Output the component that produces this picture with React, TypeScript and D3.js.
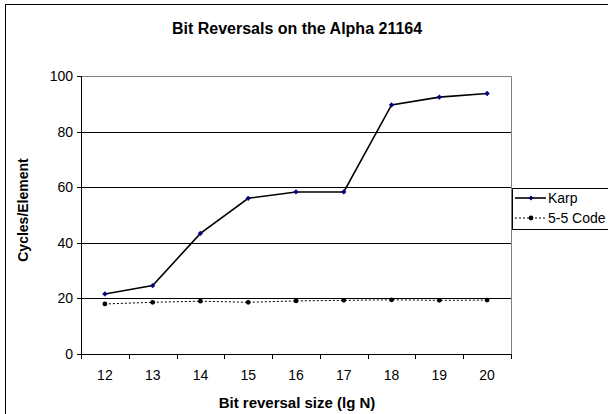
import React from "react";
import * as d3 from "d3";

const categories = ["12", "13", "14", "15", "16", "17", "18", "19", "20"];
const karp = [21.6, 24.6, 43.4, 56.0, 58.3, 58.3, 89.6, 92.4, 93.7];
const code55 = [18.0, 18.6, 19.0, 18.6, 19.1, 19.3, 19.5, 19.3, 19.4];
const yTicks = [0, 20, 40, 60, 80, 100];

const W = 608, H = 414;
const L = 81, R = 511, T = 76, B = 354;
const font = "'Liberation Sans', Arial, sans-serif";

export default function App() {
  const x = d3.scaleBand().domain(categories).range([L, R]);
  const y = d3.scaleLinear().domain([0, 100]).range([B, T]);
  const cx = (c: string) => (x(c) as number) + x.bandwidth() / 2;
  const line = d3.line<number>().x((_, i) => cx(categories[i])).y((d) => y(d));
  const boundaries = d3.range(categories.length + 1).map((i) => L + i * x.bandwidth());
  const diamond = (px: number, py: number, s = 2.4) =>
    `M${px},${py - s}L${px + s},${py}L${px},${py + s}L${px - s},${py}Z`;

  return (
    <svg width={W} height={H} style={{ position: "absolute", left: 0, top: 0 }} fontFamily={font}>
      <rect x={0} y={0} width={W} height={H} fill="#fff" />
      <rect x={5.5} y={4.5} width={W + 10} height={H + 10} fill="none" stroke="#000" strokeWidth={1} />
      <text x={297} y={34} textAnchor="middle" fontSize={16} fontWeight="bold">
        Bit Reversals on the Alpha 21164
      </text>
      {/* plot border */}
      <path d={`M${L},${T + 0.5}H${R + 0.5}V${B}`} fill="none" stroke="#808080" />
      {yTicks.filter((t) => t > 0 && t < 100).map((t) => (
        <line key={t} x1={L} x2={R} y1={Math.round(y(t)) + 0.5} y2={Math.round(y(t)) + 0.5} stroke="#000" />
      ))}
      {/* axes */}
      <line x1={L + 0.5} x2={L + 0.5} y1={T} y2={B + 0.5} stroke="#000" />
      <line x1={L} x2={R + 0.5} y1={B + 0.5} y2={B + 0.5} stroke="#000" />
      {yTicks.map((t) => (
        <g key={t}>
          <line x1={L - 4} x2={L} y1={Math.round(y(t)) + 0.5} y2={Math.round(y(t)) + 0.5} stroke="#000" />
          <text x={L - 8} y={y(t)} dy="0.36em" textAnchor="end" fontSize={14}>{t}</text>
        </g>
      ))}
      {boundaries.map((bx, i) => (
        <line key={i} x1={Math.round(bx) + 0.5} x2={Math.round(bx) + 0.5} y1={B} y2={B + 5} stroke="#000" />
      ))}
      {categories.map((c) => (
        <text key={c} x={cx(c)} y={380} textAnchor="middle" fontSize={14}>{c}</text>
      ))}
      <text x={297} y={408} textAnchor="middle" fontSize={15} fontWeight="bold">Bit reversal size (lg N)</text>
      <text transform={`translate(28,210) rotate(-90)`} textAnchor="middle" fontSize={14} fontWeight="bold">Cycles/Element</text>
      {/* series */}
      <path d={line(code55) as string} fill="none" stroke="#000" strokeWidth={1} strokeDasharray="2,2" />
      {code55.map((v, i) => (
        <circle key={i} cx={cx(categories[i])} cy={y(v)} r={2.4} fill="#000" />
      ))}
      <path d={line(karp) as string} fill="none" stroke="#000" strokeWidth={1.6} />
      {karp.map((v, i) => (
        <path key={i} d={diamond(cx(categories[i]), y(v))} fill="#000080" stroke="#000080" strokeWidth={0.5} />
      ))}
      {/* legend */}
      <rect x={512.5} y={188.5} width={110} height={41} fill="#fff" stroke="#000" />
      <line x1={515} x2={546} y1={198} y2={198} stroke="#000" strokeWidth={1.6} />
      <path d={diamond(531, 198)} fill="#000080" />
      <text x={548} y={198} dy="0.36em" fontSize={14}>Karp</text>
      <line x1={515} x2={546} y1={218} y2={218} stroke="#000" strokeDasharray="2,2" />
      <circle cx={531} cy={218} r={2.4} fill="#000" />
      <text x={548} y={218} dy="0.36em" fontSize={14}>5-5 Code</text>
    </svg>
  );
}
